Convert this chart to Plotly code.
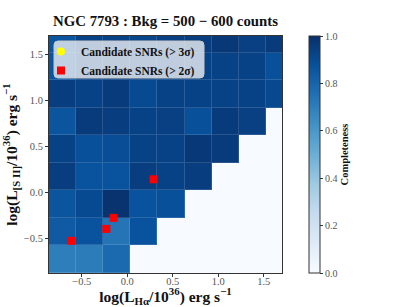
import plotly.graph_objects as go
import plotly.colors as pc

# bin edges (log L)
x_edges = [-0.86, -0.562, -0.264, 0.034, 0.332, 0.63, 0.928, 1.226, 1.524, 1.822]
y_edges = [-0.88, -0.58, -0.28, 0.02, 0.32, 0.62, 0.92, 1.22, 1.52, 1.82]

# completeness per cell, rows from bottom (low S II) to top
completeness = [
    [0.70, 0.71, 0.78, 0.00, 0.00, 0.00, 0.00, 0.00, 0.00],
    [0.84, 0.87, 0.74, 0.87, 0.00, 0.00, 0.00, 0.00, 0.00],
    [0.86, 0.90, 0.99, 0.87, 0.88, 0.00, 0.00, 0.00, 0.00],
    [0.95, 0.87, 0.87, 0.95, 0.93, 0.95, 0.00, 0.00, 0.00],
    [0.93, 0.88, 0.89, 0.93, 0.93, 0.97, 0.96, 0.00, 0.00],
    [0.86, 0.96, 0.95, 0.93, 0.94, 0.88, 0.96, 0.94, 0.00],
    [0.95, 0.93, 0.96, 0.90, 0.93, 0.93, 0.93, 0.93, 0.91],
    [0.86, 0.93, 0.94, 0.93, 0.93, 0.93, 0.93, 0.93, 0.88],
    [0.86, 0.93, 0.93, 0.92, 0.94, 0.95, 0.97, 0.94, 0.96],
]

# candidate SNRs (none above 3 sigma)
snr3_x = [None]
snr3_y = [None]
snr2_x = [-0.61, -0.23, -0.15, 0.29]
snr2_y = [-0.53, -0.40, -0.28, 0.14]

serif = "Liberation Serif"

# plot-area geometry in px (for converting the legend frame to paper units)
L, R, T, B = 49, 113, 36, 34
W, H = 395, 307
pw, ph = W - L - R, H - T - B


def px2paper(x, y):
    return (x - L) / pw, 1 - (y - T) / ph


blues = pc.sequential.Blues
scale = [[i / (len(blues) - 1), c] for i, c in enumerate(blues)]


def lighten(c, f=0.14):
    r, g, b = pc.unlabel_rgb(c)
    return "rgb(%d,%d,%d)" % (r + (255 - r) * f, g + (255 - g) * f, b + (255 - b) * f)


scale_light = [[p, lighten(c)] for p, c in scale]

fig = go.Figure()
# slightly lighter copy underneath -> faint cell edges through the gaps
fig.add_trace(go.Heatmap(
    x=x_edges, y=y_edges, z=completeness, colorscale=scale_light,
    zmin=0, zmax=1, showscale=False, showlegend=False, hoverinfo="skip",
))
fig.add_trace(go.Heatmap(
    x=x_edges, y=y_edges, z=completeness, colorscale=scale,
    zmin=0, zmax=1, showscale=True, showlegend=False, xgap=1, ygap=1,
    hoverinfo="skip",
    colorbar=dict(
        x=1.116, xanchor="left", xpad=0, ypad=0,
        y=0.5, yanchor="middle", len=1, lenmode="fraction",
        thickness=11, outlinecolor="#333", outlinewidth=1,
        tickvals=[0, 0.2, 0.4, 0.6, 0.8, 1.0],
        ticktext=["0.0", "0.2", "0.4", "0.6", "0.8", "1.0"],
        ticks="outside", ticklen=3, tickcolor="#333",
        tickfont=dict(family=serif, size=10, color="#555"),
        title=dict(text="<b>Completeness</b>", side="right",
                   font=dict(family=serif, size=10.5, color="#111")),
    ),
))
fig.add_trace(go.Scatter(
    x=snr3_x, y=snr3_y, mode="markers", name="Candidate SNRs (> 3σ)",
    marker=dict(color="yellow", size=8, symbol="circle"),
))
fig.add_trace(go.Scatter(
    x=snr2_x, y=snr2_y, mode="markers", name="Candidate SNRs (> 2σ)",
    marker=dict(color="red", size=8, symbol="square"),
))

# rounded legend frame (legend itself drawn transparent on top)
x0, y0 = px2paper(54, 41)
x1, y1 = px2paper(204, 78)
rx, ry = 4 / pw, 4 / ph
path = (f"M {x0+rx},{y0} L {x1-rx},{y0} Q {x1},{y0} {x1},{y0-ry} "
        f"L {x1},{y1+ry} Q {x1},{y1} {x1-rx},{y1} L {x0+rx},{y1} "
        f"Q {x0},{y1} {x0},{y1+ry} L {x0},{y0-ry} Q {x0},{y0} {x0+rx},{y0} Z")
fig.add_shape(type="path", path=path, xref="paper", yref="paper",
              fillcolor="rgba(238,240,244,0.8)", line=dict(color="#c8c8c8", width=1),
              layer="above")

axis_common = dict(
    showgrid=False, zeroline=False, ticks="outside", ticklen=3,
    tickcolor="#333", showline=True, linecolor="#333", linewidth=1,
    mirror=True, tickfont=dict(family=serif, size=10.5, color="#555"),
    automargin=False,
)
lx, ly = px2paper(41, 37)
fig.update_layout(
    width=W, height=H,
    margin=dict(l=L, r=R, t=T, b=B, autoexpand=False),
    paper_bgcolor="white", plot_bgcolor="white",
    title=dict(text="<b>NGC 7793 : Bkg = 500 − 600 counts</b>",
               x=(L + pw / 2) / W, xanchor="center", y=1 - 21 / H, yanchor="middle",
               font=dict(family=serif, size=14.8, color="#111")),
    xaxis=dict(range=[-0.86, 1.70], tickvals=[-0.5, 0.0, 0.5, 1.0, 1.5],
               ticktext=["−0.5", "0.0", "0.5", "1.0", "1.5"],
               ticklabelstandoff=-5,
               title=dict(text="<b>log(L<sub>Hα</sub>/10<sup>36</sup>) erg s<sup>−1</sup></b>",
                          font=dict(family=serif, size=15.5, color="#111"), standoff=2),
               **axis_common),
    yaxis=dict(range=[-0.88, 1.70], tickvals=[-0.5, 0.0, 0.5, 1.0, 1.5],
               ticktext=["−0.5", "0.0", "0.5", "1.0", "1.5"],
               title=dict(text="<b>log(L<sub>[S II]</sub>/10<sup>36</sup>) erg s<sup>−1</sup></b>",
                          font=dict(family=serif, size=15.5, color="#111"), standoff=2),
               **axis_common),
    legend=dict(x=lx, y=ly, xanchor="left", yanchor="top",
                bgcolor="rgba(0,0,0,0)", borderwidth=0,
                font=dict(family=serif, size=11.5, color="#111", weight="bold"),
                itemwidth=30, tracegroupgap=0),
    showlegend=True,
)

fig.write_html(
    "out.html",
    config={"displayModeBar": False},
    post_script="document.body.style.margin='0';document.body.style.padding='0';",
)
